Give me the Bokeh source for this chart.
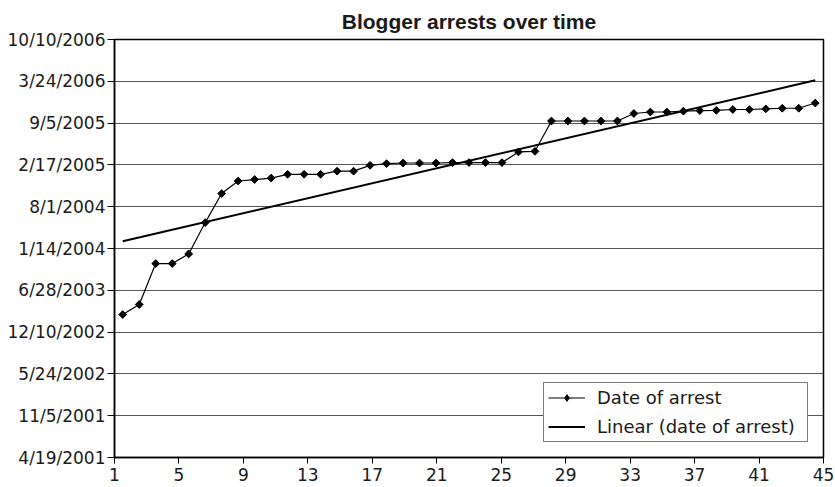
import numpy as np
import pandas as pd
from bokeh.plotting import figure
from bokeh.models import Range1d, LinearAxis, FixedTicker, Legend, LegendItem
from bokeh.embed import file_html
from bokeh.resources import INLINE

title_text = "Blogger arrests over time"
series_name = "Date of arrest"
trend_name = "Linear (date of arrest)"

arrest_number = list(range(1, 44))
arrest_dates = [
    "2003-03-04", "2003-04-21", "2003-11-03", "2003-11-03", "2003-12-19",
    "2004-05-17", "2004-10-03", "2004-12-02", "2004-12-09", "2004-12-16",
    "2005-01-03", "2005-01-03", "2005-01-03", "2005-01-18", "2005-01-18",
    "2005-02-15", "2005-02-23", "2005-02-26", "2005-02-26", "2005-02-26",
    "2005-02-28", "2005-02-28", "2005-02-28", "2005-02-28", "2005-04-20",
    "2005-04-23", "2005-09-15", "2005-09-15", "2005-09-15", "2005-09-15",
    "2005-09-15", "2005-10-21", "2005-10-28", "2005-10-28", "2005-11-01",
    "2005-11-04", "2005-11-05", "2005-11-09", "2005-11-09", "2005-11-12",
    "2005-11-15", "2005-11-15", "2005-12-10",
]
y_tick_labels = ["4/19/2001", "11/5/2001", "5/24/2002", "12/10/2002", "6/28/2003",
                 "1/14/2004", "8/1/2004", "2/17/2005", "9/5/2005", "3/24/2006",
                 "10/10/2006"]
x_tick_labels = [1, 5, 9, 13, 17, 21, 25, 29, 33, 37, 41, 45]

# convert dates to day offsets from the first y tick
dates = pd.to_datetime(arrest_dates)
tick_dates = pd.to_datetime(y_tick_labels, format="%m/%d/%Y")
base = tick_dates.min()
y_days = np.asarray((dates - base).days, dtype=float)
tick_days = [int(d) for d in (tick_dates - base).days]

# Excel-style linear trendline
slope, intercept = np.polyfit(arrest_number, y_days, 1)
trend_x = [arrest_number[0], arrest_number[-1]]
trend_y = [slope * x + intercept for x in trend_x]

FONT = "DejaVu Sans"
TXT = "#1a1a1a"

p = figure(width=835, height=487, output_backend="svg", toolbar_location=None,
           x_range=Range1d(arrest_number[0] - 0.5, arrest_number[-1] + 0.5),
           y_range=Range1d(min(tick_days), max(tick_days)),
           x_axis_location=None,
           min_border_left=114, min_border_right=12, min_border_top=39,
           min_border_bottom=30, background_fill_color="white",
           border_fill_color="white")

p.title.text = title_text
p.title.align = "center"
p.title.text_font = "Liberation Sans"
p.title.text_font_style = "bold"
p.title.text_font_size = "21px"
p.title.text_color = TXT
p.title.standoff = 14

p.outline_line_color = "black"
p.outline_line_width = 1.5

p.extra_x_ranges = {"lab": Range1d(min(x_tick_labels), max(x_tick_labels))}
xax = LinearAxis(x_range_name="lab", ticker=FixedTicker(ticks=x_tick_labels))
p.add_layout(xax, "below")

for ax in [xax] + list(p.yaxis):
    ax.axis_line_color = "black"
    ax.axis_line_width = 1.5
    ax.major_tick_line_color = "black"
    ax.major_tick_line_width = 1
    ax.major_tick_in = 0
    ax.major_tick_out = 6
    ax.minor_tick_line_color = None
    ax.major_label_text_font = FONT
    ax.major_label_text_font_size = "17px"
    ax.major_label_text_color = TXT
    ax.major_label_standoff = 4

p.yaxis.ticker = FixedTicker(ticks=tick_days)
p.yaxis.major_label_overrides = {d: lab for d, lab in zip(tick_days, y_tick_labels)}
p.yaxis.major_tick_out = 7
p.yaxis.major_label_standoff = 2

p.xgrid.visible = False
p.ygrid.grid_line_color = "#555555"
p.ygrid.grid_line_width = 1

line_r = p.line(arrest_number, y_days, line_color="black", line_width=1.2)
pts_r = p.scatter(arrest_number, y_days, marker="square", angle=np.pi / 4, size=5.5,
                  fill_color="black", line_color="black")
# diamond drawn inside the rotated squares: gives the legend its diamond glyph
leg_pts = p.scatter(arrest_number, y_days, marker="diamond", size=6,
                    fill_color="black", line_color="black")
trend_r = p.line(trend_x, trend_y, line_color="black", line_width=2)

legend = Legend(items=[LegendItem(label=series_name, renderers=[line_r, leg_pts]),
                       LegendItem(label=trend_name, renderers=[trend_r])],
                location="bottom_right")
legend.border_line_color = "black"
legend.border_line_width = 1
legend.background_fill_color = "white"
legend.background_fill_alpha = 1
legend.label_text_font = FONT
legend.label_text_font_size = "18px"
legend.label_text_color = TXT
legend.glyph_width = 37
legend.glyph_height = 17
legend.label_height = 21
legend.label_width = 206
legend.label_standoff = 12
legend.padding = 4
legend.spacing = 8
legend.margin = 15
p.add_layout(legend)

open("out.html", "w").write(file_html(p, INLINE))
